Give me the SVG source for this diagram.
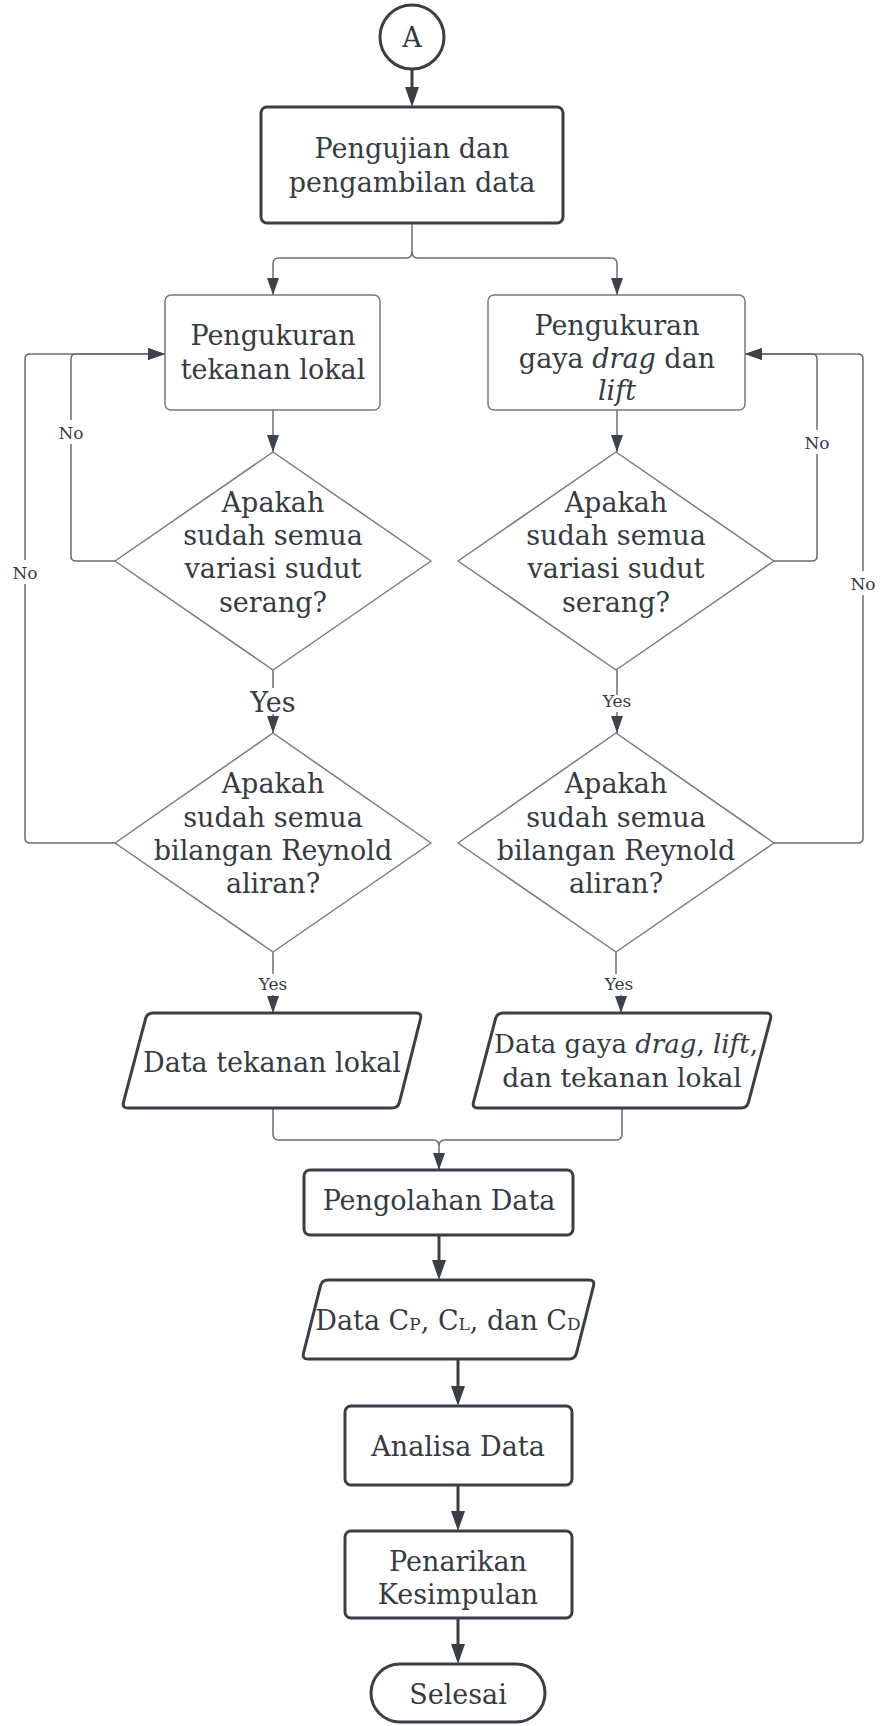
<svg xmlns="http://www.w3.org/2000/svg" width="880" height="1726" viewBox="0 0 880 1726">
  <defs>
    <style>
      .t { font-family: "DejaVu Serif", "Liberation Serif", serif; font-size: 27px; fill: #353b43; text-anchor: middle; }
      .s { font-family: "DejaVu Serif", "Liberation Serif", serif; font-size: 17px; fill: #353b43; text-anchor: middle; }
      .sub { font-size: 17px; }
      .i { font-style: italic; }
      .bold { fill: #ffffff; stroke: #3a3f47; stroke-width: 3; stroke-linejoin: round; }
      .thin { fill: #ffffff; stroke: #777a7e; stroke-width: 1.5; stroke-linejoin: round; }
      .ln { fill: none; stroke: #6a6e74; stroke-width: 1.5; }
      .lnb { fill: none; stroke: #3a3f47; stroke-width: 3; }
      .bg { fill: #ffffff; }
    </style>
    <marker id="ah" viewBox="0 0 17 12" refX="17" refY="6" markerWidth="17" markerHeight="12" orient="auto" markerUnits="userSpaceOnUse">
      <path d="M0,0 L17,6 L0,12 Z" fill="#3d434b"/>
    </marker>
    <marker id="ahb" viewBox="0 0 20 14" refX="12" refY="7" markerWidth="20" markerHeight="14" orient="auto" markerUnits="userSpaceOnUse">
      <path d="M0,0 L20,7 L0,14 Z" fill="#3a3f47"/>
    </marker>
  </defs>

  <rect width="880" height="1726" fill="#ffffff"/>

  <!-- connectors -->
  <g id="connectors">
    <path class="lnb" d="M412,69 V99" marker-end="url(#ahb)"/>
    <!-- split to both measurement branches -->
    <path class="ln" d="M412,223 V252 Q412,258 406,258 H279 Q273,258 273,264 V295" marker-end="url(#ah)"/>
    <path class="ln" d="M412,252 Q412,258 418,258 H611 Q617,258 617,264 V295" marker-end="url(#ah)"/>
    <!-- left column -->
    <path class="ln" d="M273,410 V452" marker-end="url(#ah)"/>
    <path class="ln" d="M273,670 V688 M273,714 V733" marker-end="url(#ah)"/>
    <path class="ln" d="M273,952 V974 M273,995 V1013" marker-end="url(#ah)"/>
    <path class="ln" d="M115,561 H76 Q71,561 71,556 V359 Q71,354 76,354 H165" marker-end="url(#ah)"/>
    <path class="ln" d="M115,843 H30 Q25,843 25,838 V359 Q25,354 30,354 H165" marker-end="url(#ah)"/>
    <!-- right column -->
    <path class="ln" d="M617,410 V452" marker-end="url(#ah)"/>
    <path class="ln" d="M617,670 V695 M617,712 V733" marker-end="url(#ah)"/>
    <path class="ln" d="M616,952 V974 M621,995 V1013" marker-end="url(#ah)"/>
    <path class="ln" d="M774,561 H812 Q817,561 817,556 V359 Q817,354 812,354 H745" marker-end="url(#ah)"/>
    <path class="ln" d="M774,843 H858 Q863,843 863,838 V359 Q863,354 858,354 H745" marker-end="url(#ah)"/>
    <!-- merge into processing -->
    <path class="ln" d="M273,1108 V1134 Q273,1140 279,1140 H433 Q439,1140 439,1146 V1170" marker-end="url(#ah)"/>
    <path class="ln" d="M622,1108 V1134 Q622,1140 616,1140 H445 Q439,1140 439,1146"/>
    <!-- final chain -->
    <path class="lnb" d="M439,1235 V1272" marker-end="url(#ahb)"/>
    <path class="lnb" d="M458,1359 V1398" marker-end="url(#ahb)"/>
    <path class="lnb" d="M458,1485 V1523" marker-end="url(#ahb)"/>
    <path class="lnb" d="M458,1618 V1656" marker-end="url(#ahb)"/>

    <!-- branch labels -->
    <rect class="bg" x="58" y="420" width="26" height="24"/>
    <text class="s" x="71" y="439">No</text>
    <rect class="bg" x="12" y="560" width="26" height="24"/>
    <text class="s" x="25" y="579">No</text>
    <rect class="bg" x="804" y="430" width="26" height="24"/>
    <text class="s" x="817" y="449">No</text>
    <rect class="bg" x="850" y="571" width="26" height="24"/>
    <text class="s" x="863" y="590">No</text>
    <text class="t" x="273" y="712">Yes</text>
    <text class="s" x="617" y="707">Yes</text>
    <text class="s" x="273" y="990">Yes</text>
    <text class="s" x="619" y="990">Yes</text>
  </g>

  <g id="start-a">
    <circle class="bold" cx="412" cy="37" r="32"/>
    <text class="t" x="412" y="47">A</text>
  </g>

  <g id="pengujian">
    <rect class="bold" x="261" y="107" width="302" height="116" rx="6"/>
    <text class="t" x="412" y="158">Pengujian dan</text>
    <text class="t" x="412" y="192">pengambilan data</text>
  </g>

  <g id="ukur-tekanan">
    <rect class="thin" x="165" y="295" width="215" height="115" rx="6"/>
    <text class="t" x="273" y="345">Pengukuran</text>
    <text class="t" x="273" y="379">tekanan lokal</text>
  </g>

  <g id="ukur-gaya">
    <rect class="thin" x="488" y="295" width="257" height="115" rx="6"/>
    <text class="t" x="617" y="335">Pengukuran</text>
    <text class="t" x="617" y="368">gaya <tspan class="i">drag</tspan> dan</text>
    <text class="t i" x="617" y="400">lift</text>
  </g>

  <g id="cek-sudut-kiri">
    <polygon class="thin" points="273,452 431,561 273,670 115,561"/>
    <text class="t" x="273" y="512">Apakah</text>
    <text class="t" x="273" y="545">sudah semua</text>
    <text class="t" x="273" y="578">variasi sudut</text>
    <text class="t" x="273" y="612">serang?</text>
  </g>

  <g id="cek-sudut-kanan">
    <polygon class="thin" points="616,452 774,561 616,670 458,561"/>
    <text class="t" x="616" y="512">Apakah</text>
    <text class="t" x="616" y="545">sudah semua</text>
    <text class="t" x="616" y="578">variasi sudut</text>
    <text class="t" x="616" y="612">serang?</text>
  </g>

  <g id="cek-reynold-kiri">
    <polygon class="thin" points="273,733 431,843 273,952 115,843"/>
    <text class="t" x="273" y="793">Apakah</text>
    <text class="t" x="273" y="827">sudah semua</text>
    <text class="t" x="273" y="860">bilangan Reynold</text>
    <text class="t" x="273" y="893">aliran?</text>
  </g>

  <g id="cek-reynold-kanan">
    <polygon class="thin" points="616,733 774,843 616,952 458,843"/>
    <text class="t" x="616" y="793">Apakah</text>
    <text class="t" x="616" y="827">sudah semua</text>
    <text class="t" x="616" y="860">bilangan Reynold</text>
    <text class="t" x="616" y="893">aliran?</text>
  </g>

  <g id="data-tekanan">
    <path class="bold" d="M153,1013 L416,1013 Q422,1013 420.5,1018.8 L399.5,1102.2 Q398,1108 392,1108 L128,1108 Q122,1108 123.5,1102.2 L145.5,1018.8 Q147,1013 153,1013 Z"/>
    <text class="t" x="272" y="1072">Data tekanan lokal</text>
  </g>

  <g id="data-gaya">
    <path class="bold" d="M503,1013 L766,1013 Q772,1013 770.5,1018.8 L748.5,1102.2 Q747,1108 741,1108 L478,1108 Q472,1108 473.5,1102.2 L495.5,1018.8 Q497,1013 503,1013 Z"/>
    <text class="t" x="626" y="1053" style="font-size:26px">Data gaya <tspan class="i">drag</tspan>, <tspan class="i">lift</tspan>,</text>
    <text class="t" x="622" y="1087" style="font-size:26.5px">dan tekanan lokal</text>
  </g>

  <g id="pengolahan">
    <rect class="bold" x="304" y="1170" width="269" height="65" rx="6"/>
    <text class="t" x="439" y="1210">Pengolahan Data</text>
  </g>

  <g id="data-koefisien">
    <path class="bold" d="M328,1280 L589,1280 Q595,1280 593.5,1285.8 L576.5,1353.2 Q575,1359 569,1359 L308,1359 Q302,1359 303.5,1353.2 L320.5,1285.8 Q322,1280 328,1280 Z"/>
    <text class="t" x="448" y="1330">Data C<tspan class="sub">P</tspan>, C<tspan class="sub">L</tspan>, dan C<tspan class="sub">D</tspan></text>
  </g>

  <g id="analisa">
    <rect class="bold" x="345" y="1406" width="227" height="79" rx="6"/>
    <text class="t" x="458" y="1456">Analisa Data</text>
  </g>

  <g id="kesimpulan">
    <rect class="bold" x="345" y="1531" width="227" height="87" rx="6"/>
    <text class="t" x="458" y="1571">Penarikan</text>
    <text class="t" x="458" y="1604">Kesimpulan</text>
  </g>

  <g id="selesai">
    <rect class="bold" x="371" y="1664" width="174" height="58" rx="29"/>
    <text class="t" x="458" y="1704">Selesai</text>
  </g>
</svg>
